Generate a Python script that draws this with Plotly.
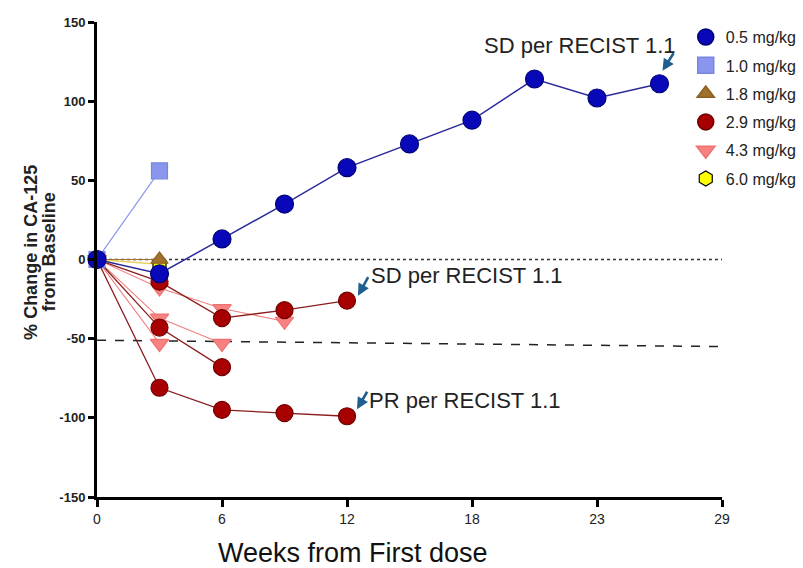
import plotly.graph_objects as go

# ---------------- data ----------------
dose_labels = ["0.5 mg/kg", "1.0 mg/kg", "1.8 mg/kg", "2.9 mg/kg", "4.3 mg/kg", "6.0 mg/kg"]

# 0.5 mg/kg (one patient)
weeks_05 = [0, 3, 6, 9, 12, 15, 18, 21, 24, 27]
chg_05 = [0, -9, 13, 35, 58, 73, 88, 114, 102, 111]

# 1.0 mg/kg
weeks_10 = [0, 3]
chg_10 = [0, 56]

# 1.8 mg/kg
weeks_18 = [0, 3]
chg_18 = [0, 0]

# 6.0 mg/kg
weeks_60 = [0, 3]
chg_60 = [0, -3]

# 2.9 mg/kg (three patients)
weeks_29 = [[0, 3, 6, 9, 12], [0, 3, 6], [0, 3, 6, 9, 12]]
chg_29 = [[0, -81, -95, -97, -99], [0, -43, -68], [0, -14, -37, -32, -26]]

# 4.3 mg/kg (three patients)
weeks_43 = [[0, 3, 6, 9], [0, 3, 6], [0, 3]]
chg_43 = [[0, -18, -31, -39], [0, -37, -53], [0, -53]]

# axis ticks
x_tickvals = [0, 6, 12, 18, 24, 30]
x_ticktext = ["0", "6", "12", "18", "23", "29"]
y_tickvals = [-150, -100, -50, 0, 50, 100, 150]
y_ticktext = ["-150", "-100", "-50", "0", "50", "100", "150"]

# reference lines
zero_line = [0, 0]
pr_line = [-51, -55]

# annotations: (x, y, text)
notes = [(27, 111, "SD per RECIST 1.1"), (12, -26, "SD per RECIST 1.1"), (12, -99, "PR per RECIST 1.1")]

# ---------------- styles ----------------
styles = {
    "0.5 mg/kg": dict(symbol="circle", color="#0808b8", edge="#00007a", size=18, line="#2a2a9a", lw=1.5),
    "1.0 mg/kg": dict(symbol="square", color="#8a96ee", edge="#7a86de", size=16, line="#8a96ee", lw=1.2),
    "1.8 mg/kg": dict(symbol="triangle-up", color="#a0702c", edge="#8a5f20", size=15, line="#a0702c", lw=1.2),
    "2.9 mg/kg": dict(symbol="circle", color="#a80000", edge="#700000", size=17, line="#8a1c1c", lw=1.3),
    "4.3 mg/kg": dict(symbol="triangle-down", color="#f88282", edge="#f07070", size=16, line="#ee8080", lw=1.1),
    "6.0 mg/kg": dict(symbol="hexagon", color="#ffff00", edge="#000000", size=15, line="#e8d060", lw=1.5),
}

fig = go.Figure()

# legend entries (dummy traces, in legend order)
for i, lab in enumerate(dose_labels):
    s = styles[lab]
    fig.add_trace(go.Scatter(
        x=[None], y=[None], mode="markers", name=lab, legendgroup=lab,
        marker=dict(symbol=s["symbol"], color=s["color"], size=s["size"],
                    line=dict(color=s["edge"], width=1.5 if lab != "6.0 mg/kg" else 1.2)),
        showlegend=True))


def add_series(xs, ys, lab):
    s = styles[lab]
    fig.add_trace(go.Scatter(
        x=xs, y=ys, mode="lines+markers", showlegend=False, cliponaxis=False,
        line=dict(color=s["line"], width=s["lw"]),
        marker=dict(symbol=s["symbol"], color=s["color"], size=s["size"],
                    line=dict(color=s["edge"], width=1.2)),
        hoverinfo="x+y", name=lab))


# draw order: 4.3, 2.9, 6.0, 1.8, 1.0, 0.5
for xs, ys in zip(weeks_43, chg_43):
    add_series(xs, ys, "4.3 mg/kg")
for xs, ys in zip(weeks_29, chg_29):
    add_series(xs, ys, "2.9 mg/kg")
add_series(weeks_60, chg_60, "6.0 mg/kg")
add_series(weeks_18, chg_18, "1.8 mg/kg")
add_series(weeks_10, chg_10, "1.0 mg/kg")
add_series(weeks_05, chg_05, "0.5 mg/kg")

# reference lines
fig.add_shape(type="line", xref="x", yref="y", x0=0, x1=30, y0=zero_line[0], y1=zero_line[1],
              line=dict(color="#333333", width=1.5, dash="dot"), layer="below")
fig.add_shape(type="line", xref="x", yref="y", x0=0, x1=30.1, y0=pr_line[0], y1=pr_line[1],
              line=dict(color="#222222", width=1.5, dash="dash"), layer="below")

# small arrows pointing at the annotated points
arrow_shifts = [(3, 13, 12, -19), (11, 5, 11, -20), (10, 7, 11, -19)]
for (nx, ny, txt), (xs_, ys_, ax_, ay_) in zip(notes, arrow_shifts):
    fig.add_annotation(x=nx, y=ny, xref="x", yref="y", text="", showarrow=True,
                       xshift=xs_, yshift=ys_, ax=ax_, ay=ay_,
                       arrowhead=2, arrowsize=0.9, arrowwidth=2.6, arrowcolor="#1f5f8f")

ann_font = dict(family="Arial", size=22, color="#222222")
fig.add_annotation(x=18.5, y=135, xref="x", yref="y", text=notes[0][2], showarrow=False,
                   xanchor="left", yanchor="middle", font=ann_font)
fig.add_annotation(x=13.05, y=-10, xref="x", yref="y", text=notes[1][2], showarrow=False,
                   xanchor="left", yanchor="middle", font=ann_font)
fig.add_annotation(x=12.95, y=-89, xref="x", yref="y", text=notes[2][2], showarrow=False,
                   xanchor="left", yanchor="middle", font=ann_font)

# axis titles as annotations
ytitle_font = dict(family="Arial", size=18, color="#222222", weight="bold")
fig.add_annotation(x=-0.124, y=0.515, xref="paper", yref="paper",
                   text="% Change in CA-125", textangle=-90,
                   showarrow=False, font=ytitle_font)
fig.add_annotation(x=-0.096, y=0.515, xref="paper", yref="paper",
                   text="from Baseline", textangle=-90,
                   showarrow=False, font=ytitle_font)
fig.add_annotation(x=0.41, y=-0.118, xref="paper", yref="paper",
                   text="Weeks from First dose", showarrow=False, yanchor="middle",
                   font=dict(family="Arial", size=27, color="#111111"))

fig.update_layout(
    width=803, height=568,
    margin=dict(l=97, r=81, t=22, b=71, autoexpand=False),
    paper_bgcolor="white", plot_bgcolor="white",
    showlegend=True,
    legend=dict(x=0.942, y=1.004, xanchor="left", yanchor="top",
                font=dict(family="Arial", size=16, color="#222222"),
                tracegroupgap=4.5, bgcolor="rgba(0,0,0,0)"),
    xaxis=dict(range=[0, 30], tickvals=x_tickvals, ticktext=x_ticktext,
               showline=True, linewidth=3, linecolor="black", ticks="outside",
               ticklen=7, tickwidth=3, tickcolor="black", showgrid=False, zeroline=False,
               tickfont=dict(family="Arial", size=14, color="#222222")),
    yaxis=dict(range=[-150, 150], tickvals=y_tickvals, ticktext=y_ticktext,
               showline=True, linewidth=3, linecolor="black", ticks="outside",
               ticklen=6, tickwidth=3, tickcolor="black", showgrid=False, zeroline=False,
               tickfont=dict(family="Arial", size=13, color="#222222", weight="bold")),
)

fig.write_html("out.html")
